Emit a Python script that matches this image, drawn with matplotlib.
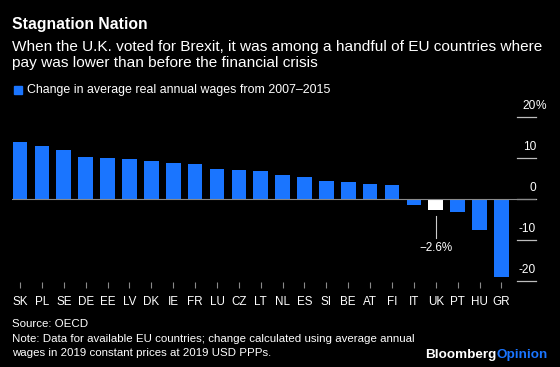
import matplotlib
matplotlib.use("Agg")
import matplotlib.pyplot as plt
from matplotlib.patches import Rectangle
import matplotlib.transforms as mtransforms

plt.rcParams['font.family'] = ['Liberation Sans', 'DejaVu Sans']

# data
countries = ['SK', 'PL', 'SE', 'DE', 'EE', 'LV', 'DK', 'IE', 'FR', 'LU', 'CZ',
             'LT', 'NL', 'ES', 'SI', 'BE', 'AT', 'FI', 'IT', 'UK', 'PT', 'HU', 'GR']
wage_change = [14.0, 13.1, 12.0, 10.4, 10.1, 9.9, 9.2, 8.9, 8.5, 7.3, 7.1,
               6.8, 6.0, 5.4, 4.5, 4.1, 3.7, 3.4, -1.4, -2.6, -3.2, -7.6, -19.0]
y_ticks = [-20, -10, 0, 10, 20]
highlight = 'UK'

BG = 'black'
BLUE = '#1a75ff'
GREY = '#8a8a8a'

W, H = 560, 367
fig = plt.figure(figsize=(W / 100, H / 100), dpi=100, facecolor=BG)


def px(x, y):
    # pixel coords (from top-left) -> figure fraction
    return x / W, 1 - y / H


ax = fig.add_axes([12 / W, (H - 282) / H, 524 / W, 166 / H])
ax.set_facecolor(BG)

xs = list(range(len(countries)))
colors = ['white' if c == highlight else BLUE for c in countries]
ax.bar(xs, wage_change, width=0.67, color=colors, zorder=2)
ax.set_xlim(-0.366, 23.58)
ax.set_ylim(-20.2, 20.3)

for s in ax.spines.values():
    s.set_visible(False)

ax.axhline(0, color=GREY, lw=0.8, zorder=3)

ax.set_yticks([])
ax.set_xticks(xs)
ax.set_xticklabels(countries, color='white', fontsize=8.4)
ax.tick_params(axis='x', length=4, width=0.8, color=GREY, pad=6)

# right-hand value axis: short lines with the label above
trans = mtransforms.blended_transform_factory(ax.transAxes, ax.transData)
for v in y_ticks:
    ax.plot([0.964, 1.0], [v, v], transform=trans, color='#bdbdbd', lw=0.9, clip_on=False)
    ax.text(1.0, v + 2.8, f'{v}', transform=trans, ha='right', va='center',
            color='white', fontsize=8.6)
ax.text(1.0, y_ticks[-1] + 2.8, '%', transform=trans, ha='left', va='center',
        color='white', fontsize=8.6)

# UK annotation
uk = countries.index(highlight)
uk_val = wage_change[uk]
ax.plot([uk, uk], [uk_val - 1.6, uk_val - 6.8], color='#cccccc', lw=0.8)
ax.text(uk, uk_val - 9.3, f'\u2212{abs(uk_val)}%', ha='center', va='center',
        color='white', fontsize=8.4)

# header
fig.text(*px(12, 29.5), 'Stagnation Nation', color='white', fontsize=11.3,
         fontweight='bold', va='baseline')
fig.text(*px(12, 51), 'When the U.K. voted for Brexit, it was among a handful of EU countries where',
         color='white', fontsize=11.1, va='baseline')
fig.text(*px(12, 67.5), 'pay was lower than before the financial crisis',
         color='white', fontsize=11.1, va='baseline')

fig.patches.append(Rectangle(px(14, 93.5), 8 / W, 7.5 / H, transform=fig.transFigure,
                             color=BLUE, figure=fig))
fig.text(*px(27, 93.5), 'Change in average real annual wages from 2007\u20132015',
         color='white', fontsize=8.9, va='baseline')

# footer
fig.text(*px(12, 327), 'Source: OECD', color='white', fontsize=8.25, va='baseline')
fig.text(*px(12, 342), 'Note: Data for available EU countries; change calculated using average annual',
         color='white', fontsize=8.25, va='baseline')
fig.text(*px(12, 356), 'wages in 2019 constant prices at 2019 USD PPPs.',
         color='white', fontsize=8.25, va='baseline')

op = fig.text(*px(548, 358), 'Opinion', color=BLUE, fontsize=9.7,
              fontweight='bold', ha='right', va='baseline')
fig.canvas.draw()
left = op.get_window_extent().x0 / W
fig.text(left, 1 - 358 / H, 'Bloomberg', color='white', fontsize=9.7,
         fontweight='bold', ha='right', va='baseline')

fig.savefig('out.png', dpi=100, facecolor=BG)
